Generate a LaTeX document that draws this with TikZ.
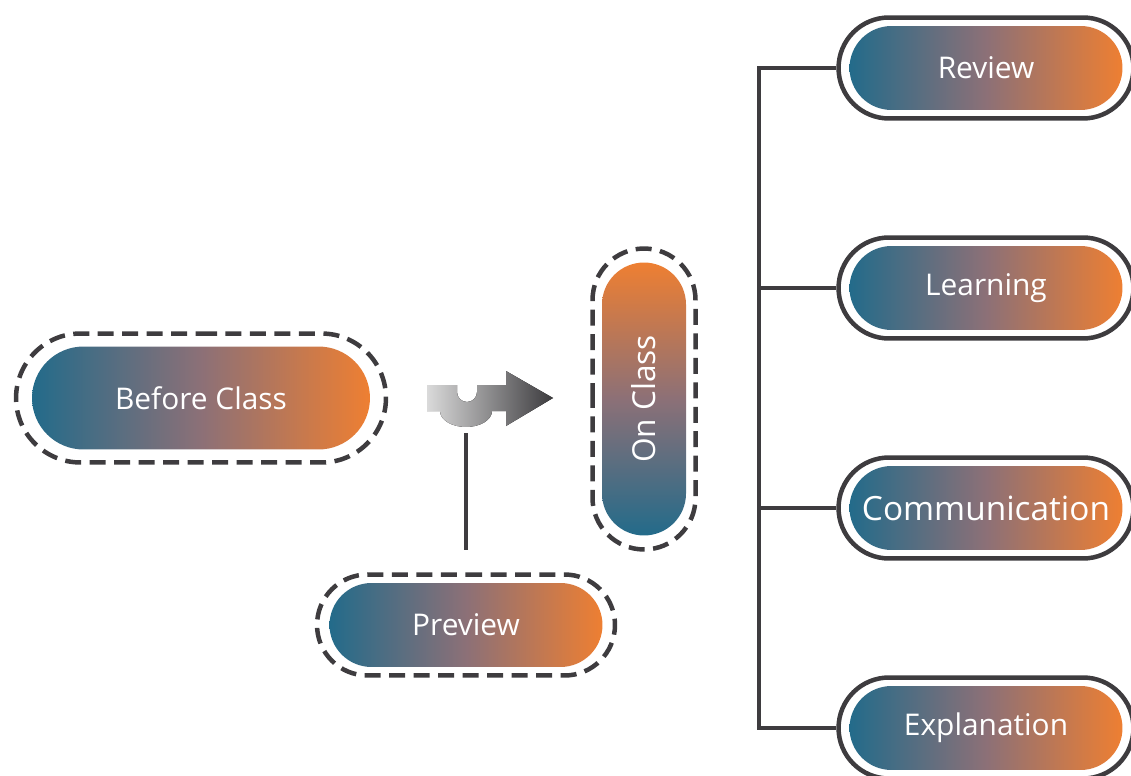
\documentclass[tikz,border=0pt]{standalone}
\usepackage{fontspec}
\newfontfamily\pillfont{Open Sans}
\usetikzlibrary{shapes.misc}

\definecolor{pteal}{HTML}{236B8A}
\definecolor{pmauve}{HTML}{8C7077}
\definecolor{porange}{HTML}{EE7F32}
\definecolor{ringgray}{HTML}{3E3C3F}
\definecolor{arrowlight}{HTML}{DADADA}
\definecolor{arrowdark}{HTML}{3C3B3E}
\pgfdeclarehorizontalshading{pillshade}{100bp}{color(0bp)=(pteal); color(25bp)=(pteal);
  color(50bp)=(pmauve); color(75bp)=(porange); color(100bp)=(porange)}

\begin{document}
\begin{tikzpicture}[x=0.02cm, y=-0.02cm,
         ring/.style = {rounded rectangle, draw=ringgray, line width=0.09cm, inner sep=0pt,
                        minimum width=5.9cm, minimum height=2.02cm},
     dashring/.style = {ring, dash pattern=on 0.32cm off 0.17cm},
         pill/.style = {rounded rectangle, shade, shading=pillshade, text=white, inner sep=0pt,
                        font=\pillfont\fontsize{17}{20}\selectfont,
                        minimum width=5.46cm, minimum height=1.68cm},
         link/.style = {draw=ringgray, line width=0.09cm},
                            ]
    \useasboundingbox (0,0) rectangle (1131,776);
    % left part
    \node[dashring, minimum width=7.4cm, minimum height=2.58cm] (beforering) at (201,398) {};
    \node[pill, minimum width=6.76cm, minimum height=2.06cm] (before) at (beforering) {Before Class};
    \node[dashring, minimum width=5.96cm] (prevring) at (466,625) {};
    \node[pill] (prev) at (prevring) {Preview};
    \node[dashring, minimum width=6.02cm, minimum height=2.06cm, rotate=90] (onring) at (644,399) {};
    \node[pill, rotate=90, shading angle=90, font=\pillfont\fontsize{18}{20}\selectfont] (on) at (onring) {On Class};
    %
    \fill[left color=arrowlight, right color=arrowdark]
        (427,385) -- (457,385) -- (457,392) arc[start angle=180, end angle=360, radius=0.2cm]
        -- (477,385) -- (506,385) -- (506,371) -- (553,398) -- (506,426) -- (506,411) -- (492,411)
        arc[start angle=0, end angle=-180, x radius=0.52cm, y radius=0.32cm] -- (427,411) -- cycle;
    \coordinate (uturn) at (466,433);
    \draw[link, shorten <=0.45cm] (prevring.north) -- (uturn);
    % right part
    \foreach \t/\s [count=\i] in {Review/17,Learning/17,Communication/19,Explanation/17}
    {
      \node[ring] (ring\i) at (986,{68+220*(\i-1)}) {};
      \node[pill, font=\pillfont\fontsize{\s}{20}\selectfont] (item\i) at (ring\i) {\t};
    }
    \coordinate (trunk) at (759,0);
    \draw[link] (ring1.west) -- (ring1.west -| trunk) -- (ring4.west -| trunk) -- (ring4.west);
    \foreach \i in {2,3}
    {
      \draw[link] (ring\i.west) -- (ring\i.west -| trunk);
    }
\end{tikzpicture}
\end{document}
